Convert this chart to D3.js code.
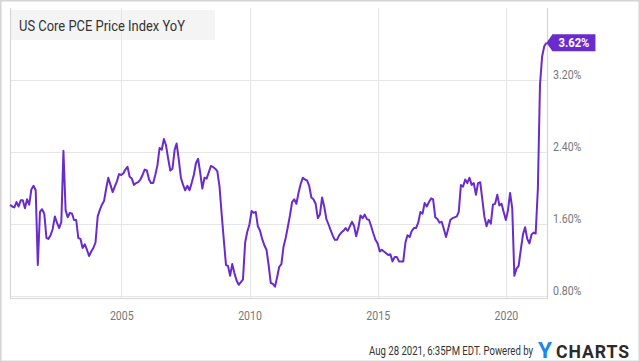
<!DOCTYPE html>
<html>
<head>
<meta charset="utf-8">
<script src="https://cdn.jsdelivr.net/npm/d3@7"></script>
<style>
  html, body { margin: 0; padding: 0; background: #fff; }
  svg { display: block; }
  text { font-family: Roboto, "Noto Sans", sans-serif; }
</style>
</head>
<body>
<svg id="chart" width="640" height="362"></svg>
<script>
// ---- Data (monthly, first month = Aug 2000, last = Jul 2021) ----
const chartTitle = "US Core PCE Price Index YoY";
const firstYear = 2000, firstMonth = 8; // August 2000
const coreValues = [
  1.82,1.80,1.79,1.85,1.80,1.87,1.87,1.78,1.88,1.82,1.99,2.03,
  1.98,1.15,1.74,1.77,1.72,1.45,1.44,1.48,1.55,1.69,1.62,1.56,
  1.63,2.42,1.76,1.68,1.73,1.72,1.65,1.65,1.45,1.44,1.34,1.38,
  1.32,1.25,1.30,1.34,1.40,1.69,1.76,1.82,1.86,2.00,2.12,2.04,
  1.96,2.02,2.08,2.16,2.15,2.17,2.21,2.24,2.13,2.11,2.04,2.06,
  2.07,2.10,2.15,2.21,2.20,2.10,2.06,2.06,2.15,2.26,2.45,2.43,
  2.55,2.48,2.33,2.20,2.22,2.43,2.50,2.32,2.12,2.04,1.98,2.03,
  1.98,2.06,2.15,2.28,2.33,2.17,2.00,2.12,2.11,2.18,2.25,2.24,
  2.22,2.19,2.02,1.72,1.43,1.15,1.14,1.03,1.16,1.06,0.98,0.93,
  0.96,0.99,1.40,1.52,1.60,1.75,1.73,1.74,1.58,1.53,1.44,1.37,
  1.32,1.15,0.95,0.94,0.91,1.02,1.13,1.16,1.35,1.45,1.57,1.70,
  1.85,1.88,1.83,1.95,2.05,2.12,2.10,2.09,2.03,1.90,1.88,1.83,
  1.67,1.71,1.90,1.80,1.66,1.60,1.54,1.48,1.43,1.43,1.48,1.51,
  1.53,1.56,1.53,1.58,1.63,1.58,1.47,1.56,1.70,1.67,1.71,1.66,
  1.65,1.58,1.50,1.43,1.39,1.30,1.32,1.30,1.28,1.26,1.27,1.19,
  1.24,1.24,1.19,1.19,1.19,1.40,1.48,1.46,1.53,1.56,1.56,1.62,
  1.74,1.72,1.84,1.80,1.85,1.89,1.88,1.68,1.66,1.62,1.63,1.55,
  1.46,1.55,1.65,1.67,1.68,1.69,1.74,2.04,2.02,2.10,2.06,2.12,
  2.04,2.06,1.93,2.06,2.07,1.87,1.69,1.58,1.65,1.61,1.82,1.83,
  1.93,1.81,1.83,1.74,1.65,1.76,1.95,1.78,1.03,1.11,1.14,1.32,
  1.49,1.57,1.44,1.39,1.49,1.51,1.50,2.00,3.15,3.47,3.58,3.62
];
const yTicks = [0.8, 1.6, 2.4, 3.2];
const yTickLabels = ["0.80%", "1.60%", "2.40%", "3.20%"];
const xTickYears = [2005, 2010, 2015, 2020];
const lastLabel = "3.62%";
const footerText = "Aug 28 2021, 6:35PM EDT.  Powered by";

// ---- Build series ----
const series = coreValues.map((v, i) => ({
  date: new Date(firstYear, firstMonth + i, 0), // month-end
  value: v
}));

const svg = d3.select("#chart");
const W = 640, H = 362;
const plot = { left: 10, right: 547, top: 8, bottom: 298.5 };

const x = d3.scaleTime()
  .domain([new Date(2000, 7, 30), new Date(2021, 7, 8)])
  .range([plot.left, plot.right]);
const y = d3.scaleLinear()
  .domain([0.8, 3.2])
  .range([296.5, 80.5]);

const purple = "#6a2bcc";

// helper: horizontally squeeze a text to a target width, anchored at (ax, ay)
function fitText(sel, ax, ay, width, anchor) {
  const node = sel.node();
  const natural = node.getComputedTextLength();
  const sx = width / natural;
  sel.attr("x", 0).attr("y", 0)
     .attr("text-anchor", anchor || "start")
     .attr("transform", `translate(${ax},${ay}) scale(${sx},1)`);
  return sel;
}

// outer border
svg.append("rect")
  .attr("x", 0.75).attr("y", 0.75)
  .attr("width", W - 1.5).attr("height", H - 1.5)
  .attr("fill", "none").attr("stroke", "#d4d4d4").attr("stroke-width", 1.5);

// title box (under gridlines)
svg.append("rect")
  .attr("x", 10).attr("y", 10).attr("width", 205).attr("height", 30)
  .attr("fill", "#f4f4f4");

// vertical gridlines
svg.append("g").selectAll("line")
  .data(xTickYears)
  .join("line")
  .attr("x1", d => Math.round(x(new Date(d, 0, 1))) + 0.5)
  .attr("x2", d => Math.round(x(new Date(d, 0, 1))) + 0.5)
  .attr("y1", plot.top).attr("y2", plot.bottom)
  .attr("stroke", "#e6e6e6").attr("stroke-width", 1);

// horizontal gridlines
svg.append("g").selectAll("line")
  .data(yTicks)
  .join("line")
  .attr("x1", plot.left).attr("x2", plot.right)
  .attr("y1", d => y(d)).attr("y2", d => y(d))
  .attr("stroke", "#e6e6e6").attr("stroke-width", 1);

// frame: left, bottom, right
svg.append("path")
  .attr("d", `M${plot.left + 0.5},${plot.top}V${plot.bottom}H${plot.right + 0.5}V${plot.top}`)
  .attr("fill", "none").attr("stroke", "#d6d6d6").attr("stroke-width", 1.2);

// title text
fitText(svg.append("text")
  .attr("font-size", 15)
  .attr("fill", "#333")
  .text(chartTitle), 19, 31, 166, "start");

// x axis labels
const xAxis = d3.axisBottom(x)
  .tickValues(xTickYears.map(yr => new Date(yr, 0, 1)))
  .tickFormat(d3.timeFormat("%Y"))
  .tickSize(0).tickPadding(0);
const gx = svg.append("g").attr("transform", `translate(0, 311)`).call(xAxis);
gx.select(".domain").remove();
gx.selectAll("text")
  .attr("font-family", "Roboto, sans-serif")
  .attr("font-size", 12)
  .attr("fill", "#777")
  .attr("dy", "0.71em")
  .attr("transform", "scale(0.88,1)");

// y axis labels (right side)
const yAxis = d3.axisRight(y).tickValues(yTicks)
  .tickFormat((d, i) => yTickLabels[i]).tickSize(0).tickPadding(0);
const gy = svg.append("g").attr("transform", `translate(553, -2)`).call(yAxis);
gy.select(".domain").remove();
gy.selectAll("text")
  .attr("font-family", "Roboto, sans-serif")
  .attr("font-size", 12)
  .attr("fill", "#777")
  .attr("dy", "0")
  .attr("transform", "scale(0.88,1)");

// line
const line = d3.line()
  .x(d => x(d.date))
  .y(d => y(d.value))
  .curve(d3.curveLinear);
svg.append("path")
  .datum(series)
  .attr("d", line)
  .attr("fill", "none")
  .attr("stroke", purple)
  .attr("stroke-width", 2)
  .attr("stroke-linejoin", "round");

// last value label
const last = series[series.length - 1];
const lx = x(last.date), ly = y(last.value);
const bx = lx + 6, bw = 43, bh = 17;
svg.append("path")
  .attr("d", `M${lx},${ly}L${bx},${ly - bh / 2}H${bx + bw}V${ly + bh / 2}H${bx}Z`)
  .attr("fill", purple);
fitText(svg.append("text")
  .attr("font-size", 12.5).attr("font-weight", "bold")
  .attr("fill", "#fff")
  .text(lastLabel), bx + bw / 2, ly + 4.5, 31, "middle");

// footer
fitText(svg.append("text")
  .attr("font-size", 12)
  .attr("fill", "#333")
  .text(footerText), 533, 355, 164, "end");
fitText(svg.append("text")
  .attr("font-size", 22).attr("font-weight", "bold")
  .attr("fill", "#1e88e5")
  .text("Y"), 538, 358, 14, "start");
fitText(svg.append("text")
  .attr("font-size", 19).attr("font-weight", "bold")
  .attr("fill", "#2b2b2b")
  .attr("letter-spacing", 1)
  .text("CHARTS"), 556, 358, 74, "start");
</script>
</body>
</html>
